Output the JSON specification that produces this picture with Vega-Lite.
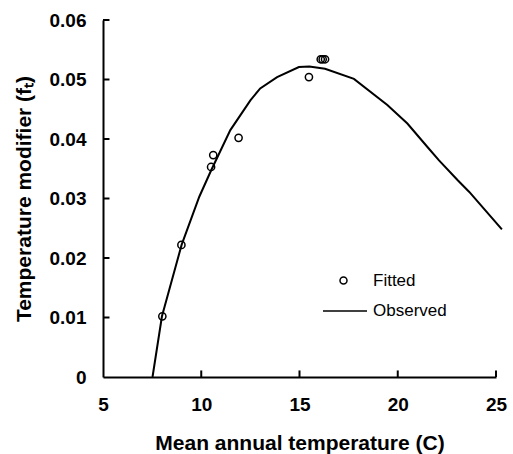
{
  "$schema": "https://vega.github.io/schema/vega-lite/v6.json",
  "width": 393,
  "height": 357,
  "autosize": {"type": "none"},
  "padding": {"left": 103, "top": 20, "right": 17, "bottom": 77},
  "background": "white",
  "config": {
    "view": {"stroke": null},
    "font": "Liberation Sans",
    "legend": {"padding": 0, "offset": 0}
  },
  "datasets": {
    "observed": [
      {"series": "Observed", "temp": 7.52, "ft": 0.0},
      {"series": "Observed", "temp": 8.0, "ft": 0.0102},
      {"series": "Observed", "temp": 9.0, "ft": 0.0222},
      {"series": "Observed", "temp": 9.9, "ft": 0.0303},
      {"series": "Observed", "temp": 10.5, "ft": 0.0347},
      {"series": "Observed", "temp": 11.48, "ft": 0.0415},
      {"series": "Observed", "temp": 12.5, "ft": 0.0465},
      {"series": "Observed", "temp": 13.0, "ft": 0.0485},
      {"series": "Observed", "temp": 13.86, "ft": 0.0504},
      {"series": "Observed", "temp": 14.97, "ft": 0.0521},
      {"series": "Observed", "temp": 15.5, "ft": 0.0522},
      {"series": "Observed", "temp": 16.3, "ft": 0.0518},
      {"series": "Observed", "temp": 17.77, "ft": 0.0501},
      {"series": "Observed", "temp": 19.47, "ft": 0.0457},
      {"series": "Observed", "temp": 20.49, "ft": 0.0426},
      {"series": "Observed", "temp": 21.5, "ft": 0.0387},
      {"series": "Observed", "temp": 22.1, "ft": 0.0364},
      {"series": "Observed", "temp": 23.04, "ft": 0.0331},
      {"series": "Observed", "temp": 23.64, "ft": 0.0311},
      {"series": "Observed", "temp": 25.3, "ft": 0.0248}
    ],
    "fitted": [
      {"series": "Fitted", "temp": 8.02, "ft": 0.0102},
      {"series": "Fitted", "temp": 8.99, "ft": 0.0222},
      {"series": "Fitted", "temp": 10.5, "ft": 0.0353},
      {"series": "Fitted", "temp": 10.61, "ft": 0.0373},
      {"series": "Fitted", "temp": 11.9, "ft": 0.0402},
      {"series": "Fitted", "temp": 15.48, "ft": 0.0504},
      {"series": "Fitted", "temp": 16.08, "ft": 0.0534},
      {"series": "Fitted", "temp": 16.18, "ft": 0.0534},
      {"series": "Fitted", "temp": 16.3, "ft": 0.0534}
    ],
    "xticks": [{"temp": 10}, {"temp": 15}, {"temp": 20}, {"temp": 25}],
    "yticks": [{"ft": 0.01}, {"ft": 0.02}, {"ft": 0.03}, {"ft": 0.04}, {"ft": 0.05}, {"ft": 0.06}]
  },
  "layer": [
    {
      "data": {"name": "observed"},
      "mark": {"type": "line", "strokeWidth": 2, "clip": false},
      "encoding": {
        "x": {
          "field": "temp",
          "type": "quantitative",
          "scale": {"domain": [5, 25], "nice": false, "zero": false},
          "axis": {
            "orient": "bottom",
            "title": "Mean annual temperature (C)",
            "values": [5, 10, 15, 20, 25],
            "grid": false,
            "ticks": false,
            "domainWidth": 2,
            "domainColor": "black",
            "labelFontSize": 19,
            "labelFontWeight": "bold",
            "labelColor": "black",
            "labelPadding": 18,
            "labelFlush": false,
            "titleFontSize": 21,
            "titleFontWeight": "bold",
            "titleColor": "black",
            "titlePadding": 18
          }
        },
        "y": {
          "field": "ft",
          "type": "quantitative",
          "scale": {"domain": [0, 0.06], "nice": false},
          "axis": {
            "orient": "left",
            "title": "Temperature modifier (fₜ)",
            "values": [0, 0.01, 0.02, 0.03, 0.04, 0.05, 0.06],
            "labelExpr": "datum.value == 0 ? '0' : format(datum.value, '.2f')",
            "grid": false,
            "ticks": false,
            "domainWidth": 2,
            "domainColor": "black",
            "labelFontSize": 19,
            "labelFontWeight": "bold",
            "labelColor": "black",
            "labelPadding": 17,
            "labelFlush": false,
            "titleFontSize": 21,
            "titleFontWeight": "bold",
            "titleColor": "black",
            "titlePadding": 15
          }
        },
        "color": {
          "field": "series",
          "type": "nominal",
          "scale": {"range": ["black"]},
          "legend": {
            "title": null,
            "orient": "none",
            "legendX": 219,
            "legendY": 268,
            "symbolType": "stroke",
            "symbolSize": 1936,
            "symbolStrokeWidth": 1.5,
            "symbolStrokeColor": "black",
            "labelFontSize": 17,
            "labelColor": "black",
            "labelOffset": 5
          }
        }
      }
    },
    {
      "data": {"name": "fitted"},
      "mark": {"type": "point", "filled": false, "stroke": "black", "strokeWidth": 1.5, "size": 52, "opacity": 1},
      "encoding": {
        "x": {"field": "temp", "type": "quantitative"},
        "y": {"field": "ft", "type": "quantitative"},
        "shape": {
          "field": "series",
          "type": "nominal",
          "scale": {"range": ["circle"]},
          "legend": {
            "title": null,
            "orient": "none",
            "legendX": 232,
            "legendY": 252,
            "symbolSize": 49,
            "symbolStrokeWidth": 1.5,
            "symbolStrokeColor": "black",
            "symbolFillColor": "transparent",
            "labelFontSize": 17,
            "labelColor": "black",
            "labelOffset": 21
          }
        }
      }
    },
    {
      "data": {"name": "xticks"},
      "mark": {"type": "rule", "color": "black", "strokeWidth": 2},
      "encoding": {
        "x": {"field": "temp", "type": "quantitative"},
        "y": {"datum": 0},
        "y2": {"datum": 0.0011}
      }
    },
    {
      "data": {"name": "yticks"},
      "mark": {"type": "rule", "color": "black", "strokeWidth": 2},
      "encoding": {
        "y": {"field": "ft", "type": "quantitative"},
        "x": {"datum": 5},
        "x2": {"datum": 5.33}
      }
    }
  ]
}
